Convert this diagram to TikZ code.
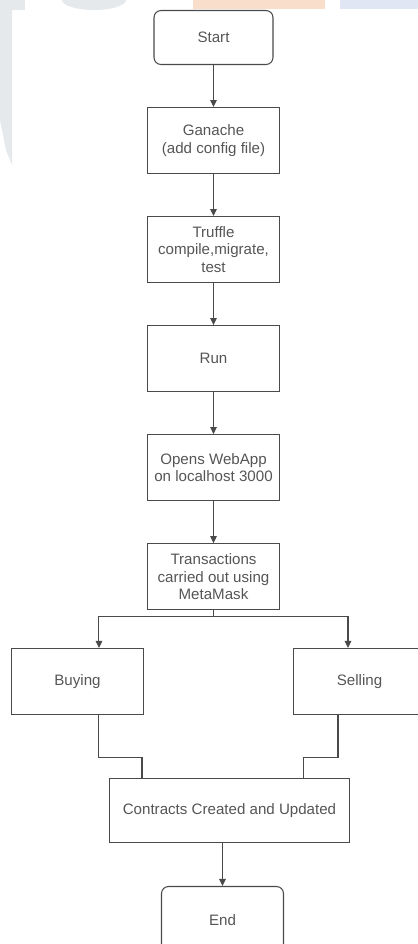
\documentclass[tikz,border=0pt]{standalone}
\usepackage{fontspec}
\setmainfont{Liberation Sans}
\usepackage{xcolor}
\usepackage{tikz}
\usetikzlibrary{arrows.meta}
\usetikzlibrary{positioning}
\definecolor{linegray}{HTML}{4A4A4A}
\definecolor{textgray}{HTML}{555555}
\definecolor{markgray}{HTML}{E5E9EC}
\definecolor{markorange}{HTML}{F9DFCB}
\definecolor{markblue}{HTML}{E0E6F4}
\tikzset{>={Triangle[length=1.4mm,width=1.3mm]}}

\begin{document}
\begin{tikzpicture}[
				x=0.02cm, y=-0.02cm,
				node distance=0.84cm,
				every node/.style = {
					font=\fontsize{8.6}{9.8}\selectfont,
					text=textgray
				},
				terminal/.style = {
					rectangle, draw=linegray, line width=0.6pt,
					rounded corners=0.14cm,
					align=center, inner sep=0pt,
					minimum width=2.38cm, minimum height=1.08cm
				},
				process/.style = {
					rectangle, draw=linegray, line width=0.6pt,
					align=center, inner sep=0pt,
					minimum width=2.64cm, minimum height=1.32cm
				},
				flow/.style = {
					draw=linegray, line width=0.6pt
				}
			]
				\useasboundingbox (0,0) rectangle (418,944);
				\clip (0,0) rectangle (418,944);
				% faint marks along the edges
				\fill[markgray] (0,0) -- (12,0) -- (12,165) -- (6,150) -- (0,120) -- cycle;
				\fill[markgray] (0,0) rectangle (25,10);
				\fill[markgray] (94,0) ellipse (0.64cm and 0.2cm);
				\fill[markorange] (193,0) rectangle (325,9);
				\fill[markblue] (340,0) rectangle (418,9);
				\node[terminal] (start) at (213.5,37.5) {Start};
				\node[process, below=of start] (ganache)
					{Ganache\\(add config file)};
				\node[process, below=of ganache] (truffle)
					{Truffle\\compile,migrate,\\test};
				\node[process, below=of truffle] (run) {Run};
				\node[process, below=of run] (webapp)
					{Opens WebApp\\on localhost 3000};
				\node[process, below=of webapp] (txn)
					{Transactions\\carried out using\\MetaMask};
				\node[process] (buying) at (77.5,681.5) {Buying};
				\node[process] (selling) at (359.5,681.5) {Selling};
				\node[process, minimum width=4.8cm, minimum height=1.28cm] (contracts)
					at (229.5,810.5) {Contracts Created and Updated};
				\node[terminal, minimum width=2.44cm, minimum height=1.34cm] (finish)
					at (222.5,920) {End};
				\coordinate (split) at (213.5,616.5);
				\draw[flow,->] (start) -- (ganache);
				\draw[flow,->] (ganache) -- (truffle);
				\draw[flow,->] (truffle) -- (run);
				\draw[flow,->] (run) -- (webapp);
				\draw[flow,->] (webapp) -- (txn);
				\draw[flow] (txn) -- (split);
				\draw[flow,->] (split) -| ([xshift=1.76cm]buying.north west);
				\draw[flow,->] (split) -| ([xshift=1.1cm]selling.north west);
				\draw[flow] ([xshift=1.76cm]buying.south west) -- ++(0,42)
					-| ([xshift=0.66cm]contracts.north west);
				\draw[flow] ([xshift=0.9cm]selling.south west) -- ++(0,42)
					-| ([xshift=3.9cm]contracts.north west);
				\draw[flow,->] (contracts.south -| finish.north) -- (finish.north);
			\end{tikzpicture}
\end{document}
